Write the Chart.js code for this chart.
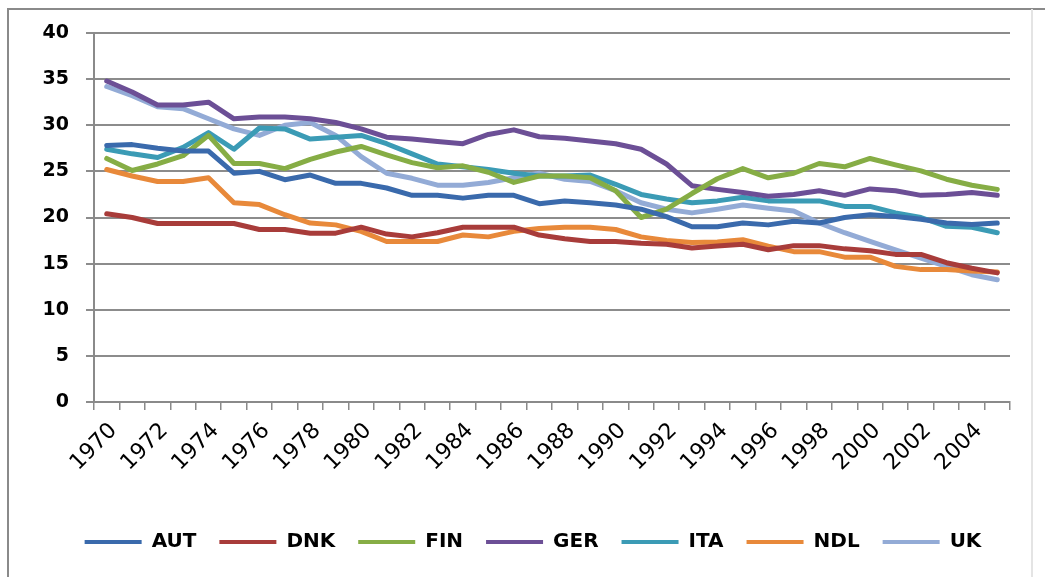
<!DOCTYPE html>
<html>
<head>
<meta charset="utf-8">
<script src="https://cdn.jsdelivr.net/npm/chart.js@4"></script>
<style>
  html, body { margin: 0; padding: 0; background: #fff; }
  #wrap { width: 1045px; height: 577px; position: relative; }
</style>
</head>
<body>
<div id="wrap"><canvas id="myChart" width="1045" height="577"></canvas></div>
<script>
// years on the x axis
let years = [];
for (let y = 1970; y <= 2005; y++) years.push(String(y));

// series values
let aut = [27.8, 27.9, 27.5, 27.2, 27.2, 24.8, 25.0, 24.1, 24.6, 23.7, 23.7,
  23.2, 22.4, 22.4, 22.1, 22.4, 22.4, 21.5, 21.8, 21.6, 21.35,
  20.9, 20.1, 19.0, 19.0, 19.4, 19.2, 19.6, 19.4, 20.0, 20.3, 20.1, 19.8, 19.4, 19.25, 19.4];
let dnk = [20.4, 20.0, 19.35, 19.35, 19.35, 19.35, 18.7, 18.7, 18.3, 18.3, 18.95,
  18.2, 17.9, 18.35, 18.95, 18.95, 18.95, 18.1, 17.7, 17.4, 17.4,
  17.2, 17.1, 16.7, 16.9, 17.1, 16.5, 16.95, 16.95, 16.6, 16.4, 16.0, 16.0, 15.1, 14.5, 14.0];
let fin = [26.4, 25.1, 25.8, 26.7, 28.9, 25.85, 25.85, 25.3, 26.3, 27.1, 27.7,
  26.8, 25.95, 25.4, 25.6, 24.9, 23.8, 24.5, 24.5, 24.3, 22.9,
  20.0, 20.9, 22.6, 24.2, 25.3, 24.3, 24.8, 25.85, 25.5, 26.4, 25.7, 25.05, 24.15, 23.5, 23.05];
let ger = [34.8, 33.6, 32.2, 32.2, 32.5, 30.7, 30.9, 30.9, 30.7, 30.3, 29.6,
  28.7, 28.5, 28.25, 28.0, 29.0, 29.5, 28.75, 28.6, 28.3, 28.0,
  27.4, 25.8, 23.45, 23.05, 22.7, 22.3, 22.5, 22.9, 22.4, 23.1, 22.9, 22.4, 22.5, 22.7, 22.4];
let ita = [27.4, 26.9, 26.5, 27.6, 29.2, 27.4, 29.7, 29.6, 28.5, 28.7, 28.9,
  28.0, 26.9, 25.8, 25.5, 25.2, 24.8, 24.5, 24.5, 24.6, 23.6,
  22.5, 22.0, 21.6, 21.8, 22.2, 21.8, 21.8, 21.8, 21.2, 21.2, 20.5, 20.0, 19.05, 18.95, 18.35];
let ndl = [25.2, 24.5, 23.9, 23.9, 24.3, 21.6, 21.4, 20.3, 19.4, 19.2, 18.5,
  17.4, 17.4, 17.4, 18.1, 17.9, 18.5, 18.8, 18.95, 18.95, 18.7,
  17.9, 17.5, 17.3, 17.35, 17.6, 16.9, 16.3, 16.3, 15.7, 15.7, 14.7, 14.35, 14.35, 14.2, 14.1];
let uk = [34.2, 33.2, 32.0, 31.8, 30.7, 29.6, 28.9, 30.0, 30.3, 28.9, 26.6,
  24.8, 24.25, 23.5, 23.5, 23.8, 24.3, 24.8, 24.15, 23.9, 22.9,
  21.6, 20.9, 20.5, 20.9, 21.35, 21.0, 20.7, 19.4, 18.35, 17.4, 16.5, 15.6, 14.7, 13.8, 13.25];

let names = ["AUT", "DNK", "FIN", "GER", "ITA", "NDL", "UK"];
let colors = ["#3a6aac", "#a83c3a", "#86ad45", "#6c4f96", "#3b9bb5", "#e8893a", "#93abd6"];
let series = [aut, dnk, fin, ger, ita, ndl, uk];

// white background and the grey frame round the figure
let framePlugin = {
  id: "frame",
  afterLayout(chart) {
    // legend sits a bit right of the plot centre in the original
    chart.legend.left += 28;
    chart.legend.right += 28;
  },
  beforeDraw(chart) {
    let c = chart.ctx;
    c.save();
    c.fillStyle = "#fff";
    c.fillRect(0, 0, chart.width, chart.height);
    c.strokeStyle = "#8a8a8a";
    c.lineWidth = 2;
    c.beginPath();
    c.moveTo(8, 600);
    c.lineTo(8, 9);
    c.lineTo(1045, 9);
    c.stroke();
    c.strokeStyle = "#e4e4e4";
    c.beginPath();
    c.moveTo(1032, 9);
    c.lineTo(1032, 600);
    c.stroke();
    c.restore();
  }
};

let canvas = document.getElementById("myChart");
let ctx = canvas.getContext("2d");
let chart = new Chart(ctx, {
  type: "line",
  data: {
    labels: years,
    datasets: names.map((n, i) => ({
      label: n,
      data: series[i],
      borderColor: colors[i],
      backgroundColor: colors[i],
      borderWidth: 5,
      pointRadius: 0,
      tension: 0,
      borderJoinStyle: "round",
      borderCapStyle: "round",
    })),
  },
  options: {
    responsive: false,
    animation: false,
    layout: { padding: { left: 0, right: 35, top: 33, bottom: 15 } },
    plugins: {
      tooltip: { enabled: false },
      legend: {
        position: "bottom",
        labels: {
          boxWidth: 57,
          boxHeight: 4,
          padding: 23,
          color: "#000",
          font: { family: "DejaVu Sans", size: 20, weight: "bold" },
          generateLabels(chart) {
            let items = Chart.defaults.plugins.legend.labels.generateLabels(chart);
            items.forEach(it => { it.lineWidth = 0; it.fillStyle = it.strokeStyle; });
            return items;
          },
        },
      },
    },
    scales: {
      x: {
        offset: true,
        afterFit(scale) { scale.height = 107; },
        border: { display: true, color: "#8a8a8a", width: 2 },
        grid: { offset: true, drawOnChartArea: false, drawTicks: true, tickLength: 8, color: "#8a8a8a", lineWidth: 1.5 },
        ticks: {
          autoSkip: false,
          maxRotation: 45,
          minRotation: 45,
          padding: 8,
          labelOffset: 7,
          color: "#000",
          font: { family: "DejaVu Sans", size: 22 },
          callback(val, i) { return i % 2 === 0 ? this.getLabelForValue(val) : ""; },
        },
      },
      y: {
        min: 0,
        max: 40,
        afterFit(scale) { scale.width = 94; },
        border: { display: true, color: "#8a8a8a", width: 2 },
        grid: { color: "#8c8c8c", lineWidth: 2, tickLength: 8 },
        ticks: {
          stepSize: 5,
          padding: 17,
          color: "#000",
          font: { family: "DejaVu Sans", size: 19, weight: "bold" },
        },
      },
    },
  },
  plugins: [framePlugin],
});
</script>
</body>
</html>
